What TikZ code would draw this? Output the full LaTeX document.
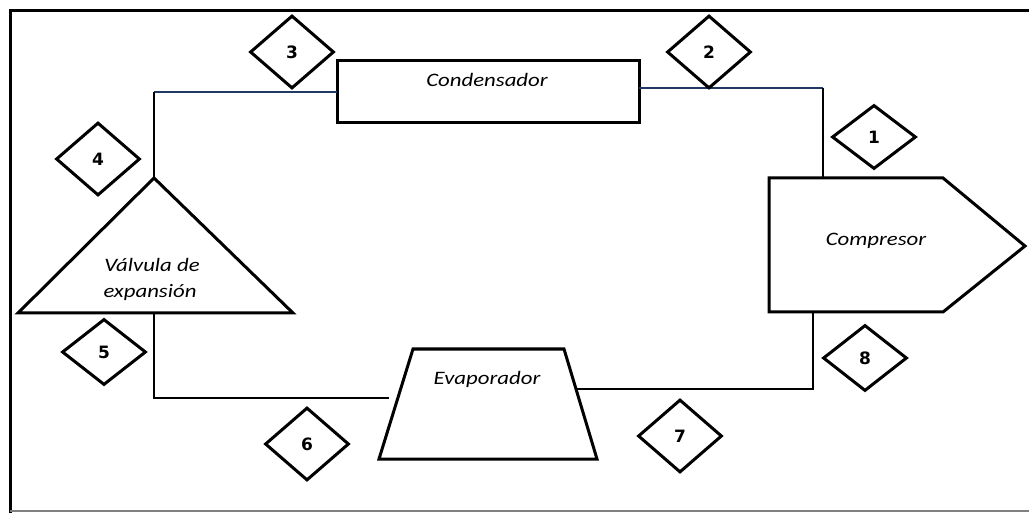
\documentclass[tikz,border=0pt]{standalone}
\usepackage{fontspec}
\usepackage{graphicx}
\setmainfont{Carlito}
\newfontfamily\numfont{DejaVu Sans}
\usetikzlibrary{shapes.geometric}
\definecolor{pipeblue}{HTML}{1F3864}
\newcommand{\lbl}[1]{\scalebox{1.2}[1]{\fontsize{19}{22}\selectfont\itshape #1}}
\tikzset{
  unit/.style={draw=black, line width=3pt, line join=miter},
  pipe/.style={draw=black, line width=2pt},
  bluepipe/.style={draw=pipeblue, line width=1.6pt},
  state/.style={diamond, draw=black, line width=3pt, inner sep=0pt, minimum width=84pt, minimum height=73pt, font=\numfont\bfseries\fontsize{17}{19}\selectfont},
  flatstate/.style={state, minimum height=64pt},
  txt/.style={inner sep=0pt, align=center}
}
\begin{document}
\begin{tikzpicture}[x=1pt, y=-1pt]
\useasboundingbox (0,0) rectangle (1029,513);
% frame
\draw[line width=3pt] (1029,11) -- (10,11) -- (10,513);
\draw[gray, line width=1.5pt] (10,511) -- (1029,511);

% condenser
\node[unit, rectangle, minimum width=302pt, minimum height=62pt, inner sep=0pt] (cond) at (488,92) {};
\node[txt] (condt) at (487,80) {\lbl{Condensador}};

% compressor
\coordinate (compTL) at (769,178);
\coordinate (compTR) at (943,178);
\coordinate (compTip) at (1025,246);
\coordinate (compBR) at (943,312);
\coordinate (compBL) at (769,312);
\draw[unit] (compTL) -- (compTR) -- (compTip) -- (compBR) -- (compBL) -- cycle;
\node[txt] (compt) at (876,241) {\lbl{Compresor}};

% expansion valve
\coordinate (valTop) at (154,178);
\coordinate (valR) at (293,313);
\coordinate (valL) at (18,313);
\draw[unit] (valTop) -- (valR) -- (valL) -- cycle;
\node[txt] (valt1) at (152,265) {\lbl{Válvula de}};
\node[txt] (valt2) at (150,292) {\lbl{expansión}};

% evaporator
\coordinate (evTL) at (413,349);
\coordinate (evTR) at (564,349);
\coordinate (evBR) at (597,459);
\coordinate (evBL) at (379,459);
\draw[unit] (evTL) -- (evTR) -- (evBR) -- (evBL) -- cycle;
\node[txt] (evt) at (487,379) {\lbl{Evaporador}};

% connection points
\coordinate (condW) at (337,92);
\coordinate (cornerTL) at (154,92);
\coordinate (condE) at (639,88);
\coordinate (cornerTR) at (823,88);
\coordinate (compIn) at (823,178);
\coordinate (compOut) at (813,312);
\coordinate (cornerBR) at (813,389);
\coordinate (evR) at (577,389);
\coordinate (valOut) at (154,313);
\coordinate (cornerBL) at (154,398);
\coordinate (evL) at (389,398);

% pipes
\draw[bluepipe] (condW) -- (cornerTL);
\draw[pipe] (cornerTL) -- (valTop);
\draw[bluepipe] (condE) -- (cornerTR);
\draw[pipe] (cornerTR) -- (compIn);
\draw[pipe] (compOut) -- (cornerBR) -- (evR);
\draw[pipe] (valOut) -- (cornerBL) -- (evL);

% state points
\node[flatstate] (s1) at (874,137) {1};
\node[state] (s2) at (709,52) {2};
\node[state] (s3) at (292,52) {3};
\node[state] (s4) at (98,159) {4};
\node[flatstate, minimum height=66pt] (s5) at (104,352) {5};
\node[state] (s6) at (307,444) {6};
\node[state] (s7) at (680,436) {7};
\node[flatstate, minimum height=66pt] (s8) at (865,358) {8};
\end{tikzpicture}
\end{document}
